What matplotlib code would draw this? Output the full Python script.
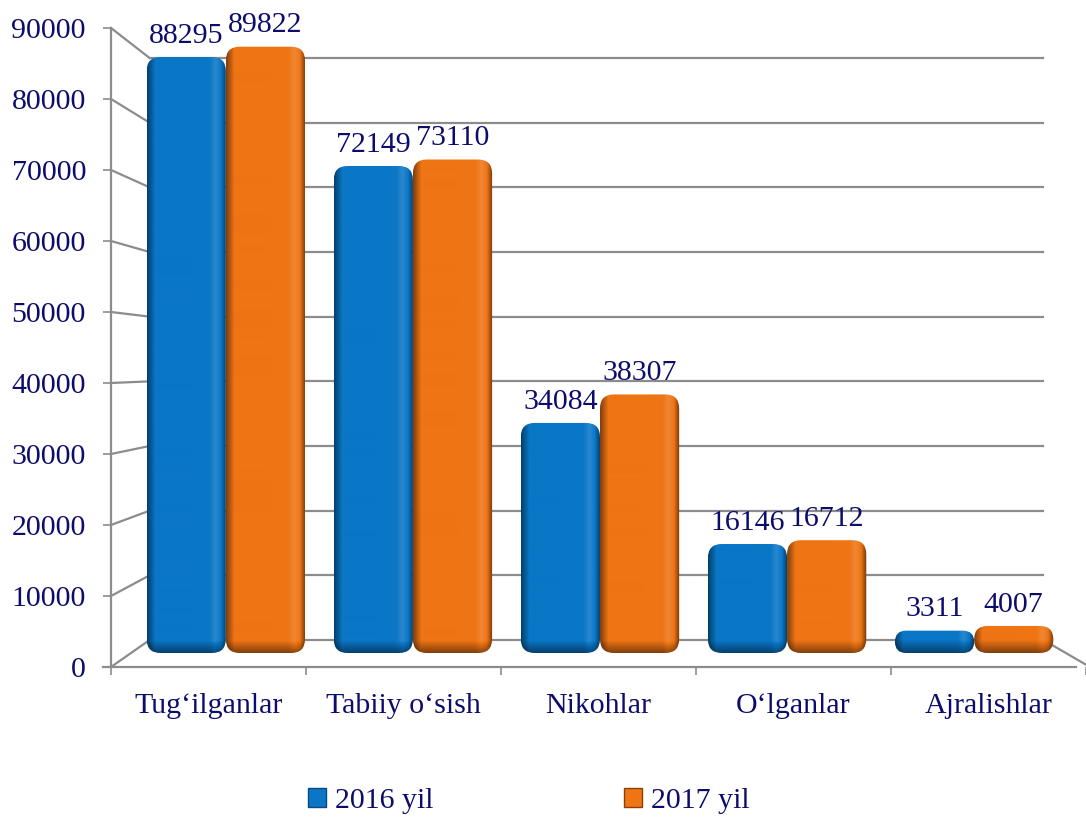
import numpy as np
import matplotlib.pyplot as plt
from matplotlib.patches import FancyBboxPatch, Patch
from matplotlib.colors import to_rgb

categories = ["Tug‘ilganlar", "Tabiiy o‘sish", "Nikohlar", "O‘lganlar", "Ajralishlar"]
values_2016 = [88295, 72149, 34084, 16146, 3311]
values_2017 = [89822, 73110, 38307, 16712, 4007]
series_names = ["2016 yil", "2017 yil"]
y_ticks = [0, 10000, 20000, 30000, 40000, 50000, 60000, 70000, 80000, 90000]

BLUE = "#0a76c6"
ORANGE = "#ee7414"
TEXT = "#0c0c6c"
GRID = "#8c8c8c"
FONT = "Liberation Serif"
FS = 21.5

W, H = 1086, 819
# pseudo-3D geometry in pixels: bars sit in a middle plane, the y axis on the
# front plane and the gridlines on the back wall
BAR_BASE, BAR_SCALE = 653, 0.00675
FRONT_BASE, FRONT_SCALE = 667, 639 / 90000
BACK_BASE, BACK_SCALE = 640, 582 / 90000
GROUP_X0, GROUP_STEP, BAR_W = 227, 189, 80
FRONT_X0, FRONT_STEP = 111, 197


def px_x(p):
    return (p - GROUP_X0) / GROUP_STEP


def px_y(p):
    return (BAR_BASE - p) / BAR_SCALE


def front_y(v):
    return px_y(FRONT_BASE - v * FRONT_SCALE)


def back_y(v):
    return px_y(BACK_BASE - v * BACK_SCALE)


fig = plt.figure(figsize=(W / 100, H / 100), dpi=100)
ax_top, ax_bot = 20, FRONT_BASE
ax = fig.add_axes([FRONT_X0 / W, (H - ax_bot) / H, (W - FRONT_X0) / W, (ax_bot - ax_top) / H])
ax.set_xlim(px_x(FRONT_X0), px_x(W))
ax.set_ylim(px_y(ax_bot), px_y(ax_top))
for s in ax.spines.values():
    s.set_visible(False)

# back wall gridlines and side-wall diagonals
bx0, bx1 = px_x(150), px_x(1053)
fx0 = px_x(FRONT_X0)
for v in y_ticks:
    ax.plot([bx0, bx1], [back_y(v), back_y(v)], color=GRID, lw=1.6, zorder=1)
    ax.plot([fx0, bx0], [front_y(v), back_y(v)], color=GRID, lw=1.6, zorder=1, clip_on=False)
# front vertical axis and floor edges
ax.plot([fx0, fx0], [front_y(0), front_y(90000)], color=GRID, lw=1.6, clip_on=False)
ax.plot([px_x(103), px_x(W)], [front_y(0), front_y(0)], color=GRID, lw=1.6, clip_on=False)
ax.plot([bx1, px_x(1100)], [back_y(0), front_y(0)], color=GRID, lw=1.6, zorder=1)

# ticks
ax.set_yticks([front_y(v) for v in y_ticks], [str(v) for v in y_ticks])
ax.tick_params(axis="y", length=6, width=1.2, color=GRID, pad=12, labelsize=FS, labelcolor=TEXT)
major_x = [px_x(FRONT_X0 + FRONT_STEP * k) for k in range(len(categories) + 1)]
ax.set_xticks(major_x, [""] * len(major_x))
ax.set_xticks([(a + b) / 2 for a, b in zip(major_x[:-1], major_x[1:])], categories, minor=True)
ax.tick_params(axis="x", which="major", length=6, width=1.2, color=GRID)
ax.tick_params(axis="x", which="minor", length=0, pad=19, labelsize=FS, labelcolor=TEXT)
for lab in ax.get_xticklabels(minor=True) + ax.get_yticklabels():
    lab.set_fontfamily(FONT)

aspect = (1 / BAR_SCALE) / (1 / GROUP_STEP)


def shade_img(color, w_px, h_px):
    rgb = np.array(to_rgb(color))
    u = np.linspace(0, 1, max(int(w_px), 2))
    f = np.ones_like(u)
    f = np.where(u < 0.1, 0.55 + 0.45 * u / 0.1, f)
    f = f + 0.12 * np.exp(-((u - 0.86) / 0.05) ** 2)
    f = np.where(u > 0.93, f * (1 - 0.5 * (u - 0.93) / 0.07), f)
    n = max(int(h_px), 2)
    t = np.arange(n)[::-1].astype(float)  # px above bottom
    g = np.ones(n)
    g = np.where(t < 12, 0.55 + 0.45 * t / 12, g)
    fac = np.outer(g, f)[:, :, None]
    img = np.where(fac <= 1, rgb * fac, rgb + (1 - rgb) * (fac - 1))
    return np.clip(img, 0, 1)


for i in range(len(categories)):
    cx = i  # group centre in data units
    for j, (vals, col) in enumerate([(values_2016, BLUE), (values_2017, ORANGE)]):
        v = vals[i]
        x0 = cx - BAR_W / GROUP_STEP if j == 0 else cx
        w = BAR_W / GROUP_STEP
        h_px = v * BAR_SCALE
        rs = min(14 / GROUP_STEP, h_px / 2 / GROUP_STEP)
        patch = FancyBboxPatch((x0, 0), w, v, boxstyle=f"round,pad=0,rounding_size={rs}",
                               mutation_aspect=aspect, facecolor="none", edgecolor="none",
                               zorder=3)
        ax.add_patch(patch)
        im = ax.imshow(shade_img(col, BAR_W, h_px), extent=(x0, x0 + w, 0, v),
                       aspect="auto", interpolation="bilinear", zorder=3)
        im.set_clip_path(patch)
        ax.annotate(str(v), (x0 + w / 2, v), xytext=(0, 6), textcoords="offset points",
                    ha="center", va="bottom", fontsize=FS, color=TEXT, family=FONT)

handles = [Patch(facecolor=BLUE, edgecolor="#064a80"), Patch(facecolor=ORANGE, edgecolor="#8a4008")]
leg = fig.legend(handles, series_names, loc="center", bbox_to_anchor=(0.487, 1 - 801 / H),
                 ncol=2, frameon=False, handlelength=0.6, handleheight=0.6,
                 handletextpad=0.3, columnspacing=6.4, prop={"family": FONT, "size": FS})
for t in leg.get_texts():
    t.set_color(TEXT)

fig.savefig("out.png", dpi=100)
